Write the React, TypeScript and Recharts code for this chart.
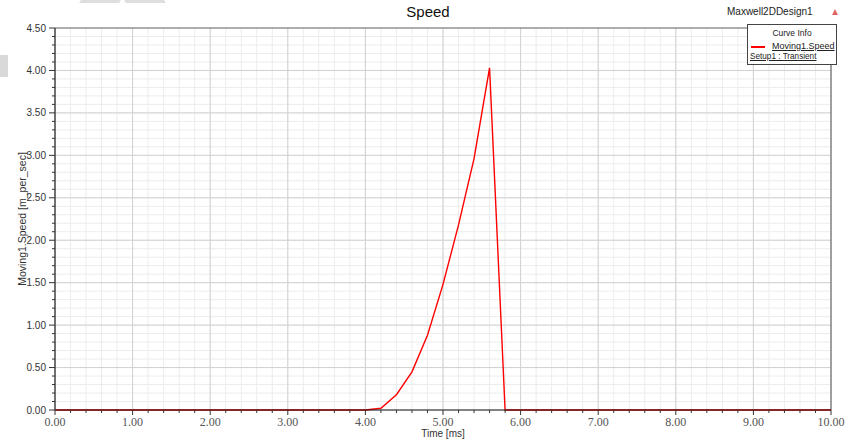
import React from 'react';
import { LineChart, Line, XAxis, YAxis, CartesianGrid, ReferenceLine, Legend, Label } from 'recharts';

// Time [ms] and Moving1.Speed [m_per_sec]
const timeMs = [0, 4.0, 4.2, 4.4, 4.6, 4.8, 5.0, 5.2, 5.4, 5.6, 5.8, 10.0];
const speed = [0, 0, 0.02, 0.18, 0.45, 0.88, 1.48, 2.18, 2.96, 4.03, 0, 0];

const xMajorTicks = [0, 1, 2, 3, 4, 5, 6, 7, 8, 9, 10];
const xMinorTicks = [
  0, 0.2, 0.4, 0.6, 0.8, 1, 1.2, 1.4, 1.6, 1.8, 2, 2.2, 2.4, 2.6, 2.8, 3, 3.2, 3.4, 3.6, 3.8,
  4, 4.2, 4.4, 4.6, 4.8, 5, 5.2, 5.4, 5.6, 5.8, 6, 6.2, 6.4, 6.6, 6.8, 7, 7.2, 7.4, 7.6, 7.8,
  8, 8.2, 8.4, 8.6, 8.8, 9, 9.2, 9.4, 9.6, 9.8, 10,
];
const yMajorTicks = [0, 0.5, 1, 1.5, 2, 2.5, 3, 3.5, 4, 4.5];
const yMinorTicks = [
  0, 0.1, 0.2, 0.3, 0.4, 0.5, 0.6, 0.7, 0.8, 0.9, 1, 1.1, 1.2, 1.3, 1.4, 1.5, 1.6, 1.7, 1.8, 1.9,
  2, 2.1, 2.2, 2.3, 2.4, 2.5, 2.6, 2.7, 2.8, 2.9, 3, 3.1, 3.2, 3.3, 3.4, 3.5, 3.6, 3.7, 3.8, 3.9,
  4, 4.1, 4.2, 4.3, 4.4, 4.5,
];

const chartTitle = 'Speed';
const designName = 'Maxwell2DDesign1';
const seriesName = 'Moving1.Speed';
const setupName = 'Setup1 : Transient';
const xLabel = 'Time [ms]';
const yLabel = 'Moving1.Speed [m_per_sec]';

const data = timeMs.map((t, i) => ({ t, v: speed[i] }));

const isIn = (arr: number[], v: number) => arr.some((m) => Math.abs(m - v) < 1e-6);

const XTick = (props: any) => {
  const { x, y, payload } = props;
  const v = payload.value as number;
  const major = isIn(xMajorTicks, v);
  return (
    <g>
      <line x1={x} x2={x} y1={y} y2={y + (major ? 5 : 3)} stroke="#333" strokeWidth={1} />
      {major && (
        <text x={x} y={y + 16} textAnchor="middle" fontFamily="'Liberation Serif', serif" fontSize={12} fill="#555">
          {v.toFixed(2)}
        </text>
      )}
    </g>
  );
};

const YTick = (props: any) => {
  const { x, y, payload } = props;
  const v = payload.value as number;
  const major = isIn(yMajorTicks, v);
  return (
    <g>
      <line x1={x - (major ? 6 : 3)} x2={x} y1={y} y2={y} stroke="#333" strokeWidth={1} />
      {major && (
        <text x={x - 9} y={y + 3.5} textAnchor="end" fontFamily="'Liberation Sans', Arial, sans-serif" fontSize={10} fill="#333">
          {v.toFixed(2)}
        </text>
      )}
    </g>
  );
};

const LegendBox = () => (
  <div
    style={{
      width: 90,
      height: 41,
      boxSizing: 'border-box',
      border: '1px solid #444',
      background: '#fff',
      fontFamily: "'Liberation Sans', Arial, sans-serif",
      color: '#222',
      position: 'relative',
    }}
  >
    <div style={{ position: 'absolute', left: 0, right: 0, top: 3, textAlign: 'center', fontSize: 8.5 }}>Curve Info</div>
    <div style={{ position: 'absolute', left: 3, top: 21, width: 14, height: 1.5, background: '#ff0000' }} />
    <div style={{ position: 'absolute', left: 24, top: 16, fontSize: 9, textDecoration: 'underline' }}>{seriesName}</div>
    <div style={{ position: 'absolute', left: 2, top: 27, fontSize: 8.2, textDecoration: 'underline' }}>{setupName}</div>
  </div>
);

export default function App() {
  return (
    <div style={{ position: 'absolute', left: 0, top: 0, width: 854, height: 441, background: '#fff', overflow: 'hidden' }}>
      {/* background artifacts */}
      <div style={{ position: 'absolute', left: 0, top: 55, width: 8, height: 22, background: '#d9d9d9' }} />
      <div style={{ position: 'absolute', left: 80, top: 0, width: 40, height: 3, background: '#dedede', transform: 'skewX(-30deg)' }} />
      <div style={{ position: 'absolute', left: 125, top: 0, width: 40, height: 3, background: '#dedede', transform: 'skewX(30deg)' }} />

      <LineChart width={854} height={441} data={data} margin={{ top: 28, right: 23, bottom: 0, left: 0 }}>
        <CartesianGrid stroke="#ececec" strokeWidth={1} />
        {xMajorTicks.slice(1, -1).map((v) => (
          <ReferenceLine key={'x' + v} x={v} stroke="#d2d2d2" strokeWidth={1} />
        ))}
        {yMajorTicks.slice(1, -1).map((v) => (
          <ReferenceLine key={'y' + v} y={v} stroke="#d2d2d2" strokeWidth={1} />
        ))}
        <ReferenceLine y={4.5} stroke="#666" strokeWidth={1.2} />
        <ReferenceLine x={10} stroke="#666" strokeWidth={1.2} />
        <XAxis
          dataKey="t"
          type="number"
          domain={[0, 10]}
          ticks={xMinorTicks}
          interval={0}
          height={31}
          tickSize={0}
          tickMargin={0}
          tickLine={false}
          tick={<XTick />}
          axisLine={{ stroke: '#111', strokeWidth: 1.2 }}
        >
          <Label
            content={(p: any) => {
              const vb = p.viewBox;
              return (
                <text x={vb.x + vb.width / 2} y={vb.y + 27} textAnchor="middle" fontFamily="'Liberation Sans', Arial, sans-serif" fontSize={10} fill="#333">
                  {xLabel}
                </text>
              );
            }}
          />
        </XAxis>
        <YAxis
          type="number"
          domain={[0, 4.5]}
          ticks={yMinorTicks}
          interval={0}
          width={55}
          tickSize={0}
          tickMargin={0}
          tickLine={false}
          tick={<YTick />}
          axisLine={{ stroke: '#444', strokeWidth: 1.5 }}
        >
          <Label
            content={(p: any) => {
              const vb = p.viewBox;
              const cx = vb.x + 22;
              const cy = vb.y + vb.height / 2;
              return (
                <text x={cx} y={cy} transform={`rotate(-90 ${cx} ${cy})`} textAnchor="middle" dominantBaseline="central" fontFamily="'Liberation Sans', Arial, sans-serif" fontSize={10.5} fill="#333">
                  {yLabel}
                </text>
              );
            }}
          />
        </YAxis>
        <Legend
          layout="horizontal"
          verticalAlign="middle"
          align="center"
          content={() => <LegendBox />}
          wrapperStyle={{ left: 747, top: 24, width: 90, height: 41 }}
        />
        <Line dataKey="v" name={seriesName} stroke="#ff0000" strokeWidth={1.4} dot={false} isAnimationActive={false} type="linear" />
      </LineChart>

      <div style={{ position: 'absolute', left: 328, width: 200, top: 3, textAlign: 'center', fontFamily: "'Liberation Sans', Arial, sans-serif", fontSize: 15, color: '#111' }}>
        {chartTitle}
      </div>
      <div style={{ position: 'absolute', left: 727, top: 6, fontFamily: "'Liberation Sans', Arial, sans-serif", fontSize: 10, color: '#222' }}>
        {designName}
      </div>
      <div style={{ position: 'absolute', left: 832, top: 9, width: 0, height: 0, borderLeft: '3px solid transparent', borderRight: '3px solid transparent', borderBottom: '6px solid #e06666' }} />
    </div>
  );
}
